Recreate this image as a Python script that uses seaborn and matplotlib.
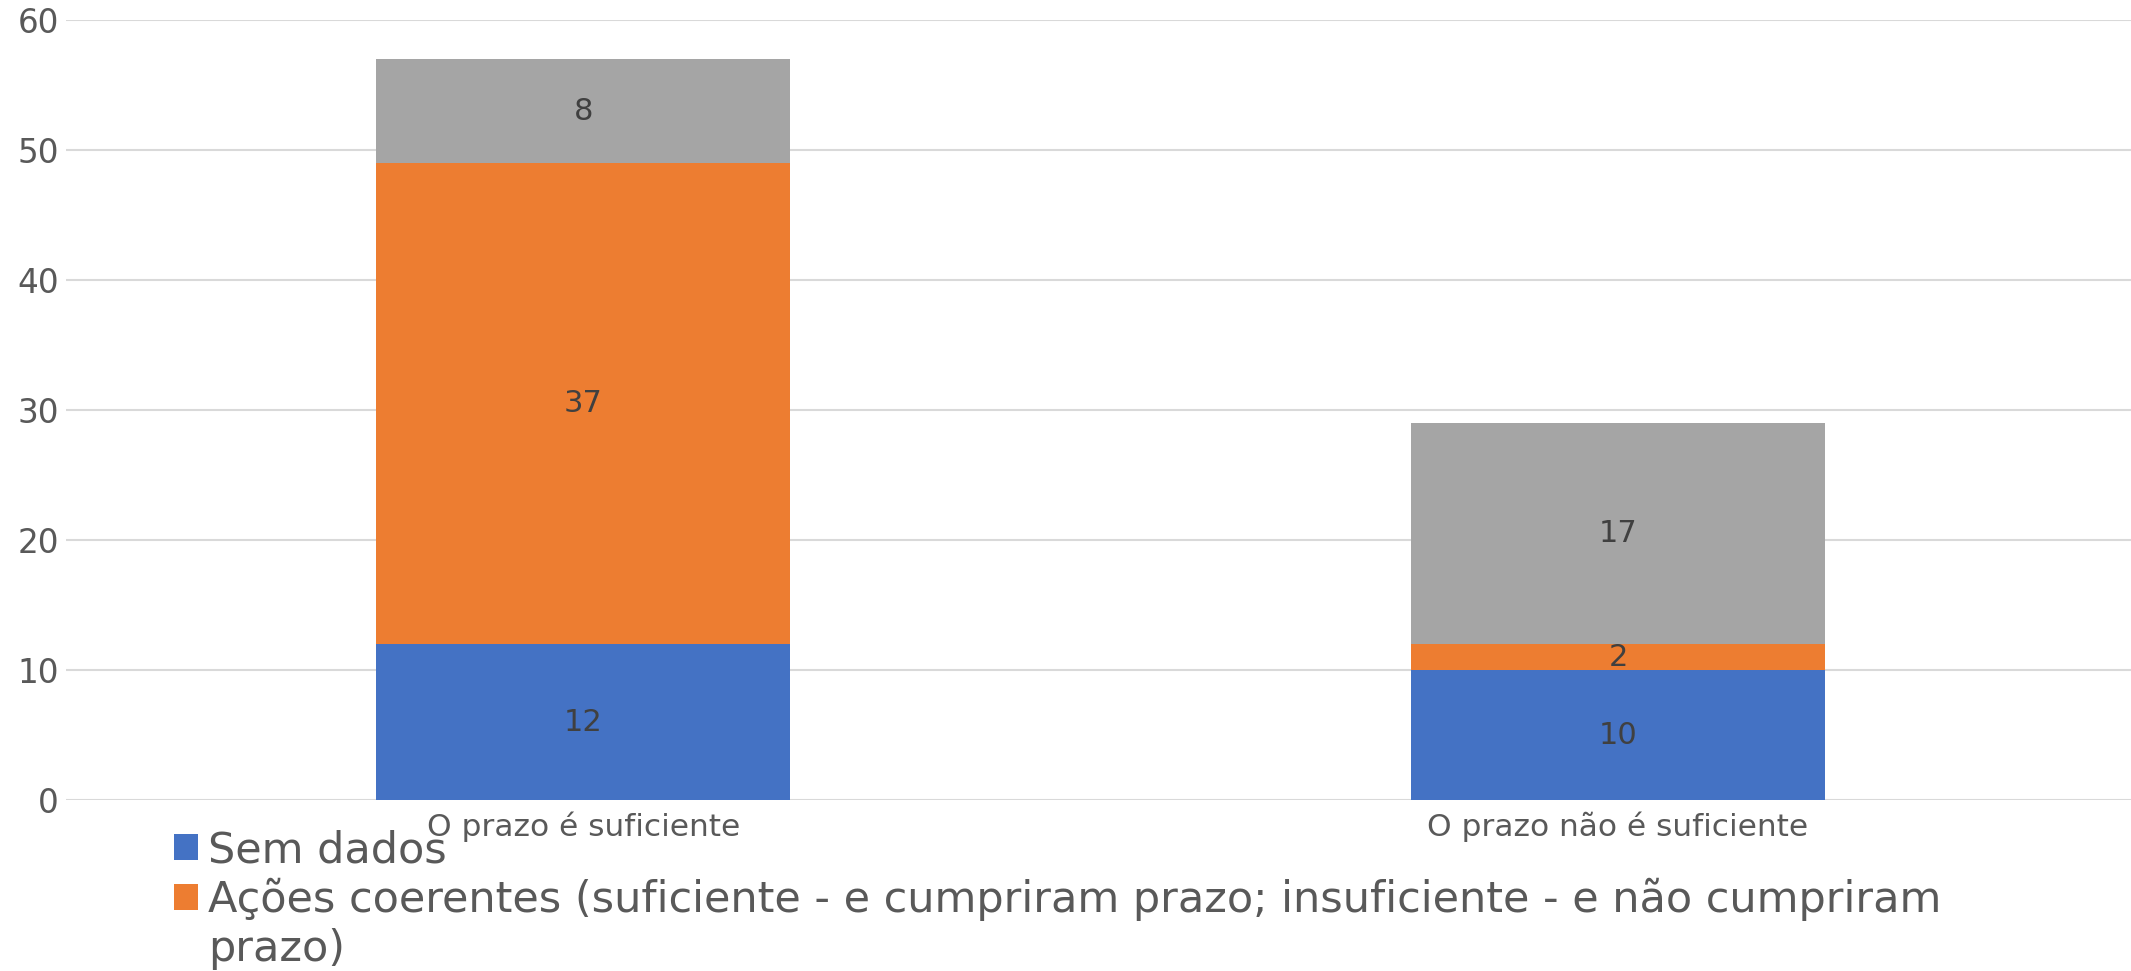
import numpy as np
import pandas as pd
import matplotlib.pyplot as plt
import seaborn as sns
from matplotlib.patches import Patch

sns.set_theme(style="white")
plt.rcParams["font.family"] = ["DejaVu Sans"]

categorias = ["O prazo é suficiente", "O prazo não é suficiente"]
series = [
    "Sem dados",
    "Ações coerentes (suficiente - e cumpriram prazo; insuficiente - e não cumpriram prazo)",
    "Ações incoerentes",
]
sem_dados = [12, 10]
coerentes = [37, 2]
incoerentes = [8, 17]
cores = ["#4472C4", "#ED7D31", "#A5A5A5"]
yticks = [0, 10, 20, 30, 40, 50, 60]

valores = np.array([sem_dados, coerentes, incoerentes], dtype=float)
acumulado = valores.cumsum(axis=0)

fig = plt.figure(figsize=(21.31, 9.71), dpi=100)
ax = fig.add_axes([0.031, 0.176, 0.971, 0.803])

# stacked bars: draw the cumulative totals from top to bottom
for i in reversed(range(len(series))):
    df = pd.DataFrame({"cat": categorias, "val": acumulado[i]})
    sns.barplot(data=df, x="cat", y="val", color=cores[i], saturation=1,
                width=0.4, ax=ax, edgecolor="none", linewidth=0, zorder=2)

for i in range(len(series)):
    base = acumulado[i] - valores[i]
    for j in range(len(categorias)):
        ax.text(j, base[j] + valores[i][j] / 2, f"{int(valores[i][j])}",
                ha="center", va="center", fontsize=22, color="#404040", zorder=3)

ax.set_ylim(0, 60)
ax.set_xlim(-0.5, 1.5)
ax.set_yticks(yticks)
ax.yaxis.grid(True, color="#D9D9D9", linewidth=1.5, zorder=0)
ax.set_axisbelow(True)
for s in ax.spines.values():
    s.set_visible(False)
ax.tick_params(axis="y", labelsize=23.5, labelcolor="#595959", length=0, pad=5)
ax.tick_params(axis="x", labelsize=22.5, labelcolor="#595959", length=0, pad=8)
ax.set_xlabel("")
ax.set_ylabel("")

# legend as in the original: the long label wraps, the third entry falls off the canvas
corte = series[1].rfind(" ")
linhas = [series[0], series[1][:corte], series[1][corte + 1:]]
handles = [Patch(facecolor=cores[0], edgecolor="none"),
           Patch(facecolor=cores[1], edgecolor="none"),
           Patch(facecolor="none", edgecolor="none")]
fig.legend(handles, linhas, loc="upper left", bbox_to_anchor=(0.0816, 0.146),
           frameon=False, fontsize=31, labelcolor="#595959",
           handlelength=0.57, handleheight=0.57, handletextpad=0.22,
           labelspacing=0.16, borderaxespad=0, borderpad=0)

fig.savefig("out.png", dpi=100)
